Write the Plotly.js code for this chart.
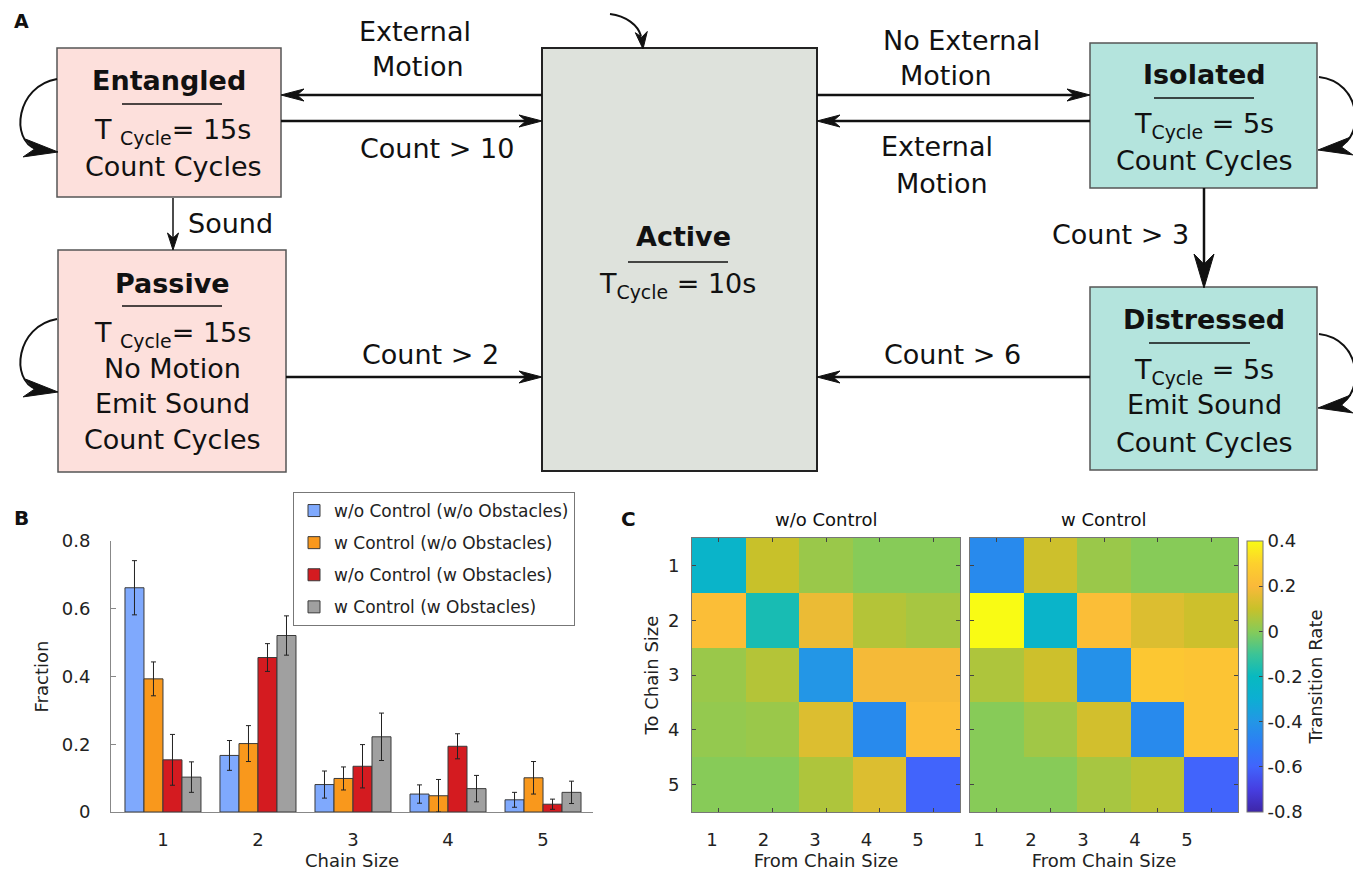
<!DOCTYPE html>
<html><head><meta charset="utf-8">
<script src="https://cdn.plot.ly/plotly-3.0.1.min.js"></script>
<style>html,body{margin:0;padding:0;background:#fff;}#chart{width:1353px;height:871px;}</style>
</head><body><div id="chart"></div>
<script>
// ---------------- DATA ----------------
const chainSizes = [1, 2, 3, 4, 5];
const chainLabels = ['1', '2', '3', '4', '5'];
const seriesNames = ['w/o Control (w/o Obstacles)', 'w Control (w/o Obstacles)', 'w/o Control (w Obstacles)', 'w Control (w Obstacles)'];
const seriesColors = ['#7fa9fd', '#f9981c', '#d41b20', '#a0a0a0'];
const fracNoCtrlNoObs = [0.662, 0.167, 0.081, 0.053, 0.036];
const errNoCtrlNoObs  = [0.080, 0.044, 0.040, 0.027, 0.022];
const fracCtrlNoObs   = [0.393, 0.202, 0.099, 0.048, 0.101];
const errCtrlNoObs    = [0.050, 0.053, 0.034, 0.048, 0.048];
const fracNoCtrlObs   = [0.154, 0.456, 0.135, 0.194, 0.023];
const errNoCtrlObs    = [0.075, 0.041, 0.064, 0.037, 0.015];
const fracCtrlObs     = [0.103, 0.521, 0.222, 0.069, 0.058];
const errCtrlObs      = [0.045, 0.058, 0.070, 0.039, 0.033];
const fractionTicks = [0, 0.2, 0.4, 0.6, 0.8];
const fractionTickLabels = ['0', '0.2', '0.4', '0.6', '0.8'];

// transition rate matrices: rows = To chain size 1..5, cols = From chain size 1..5
const rateNoCtrl = [
  [-0.25, 0.10, 0.03, 0.00, 0.00],
  [ 0.22,-0.17, 0.17, 0.07, 0.05],
  [ 0.03, 0.07,-0.40, 0.19, 0.19],
  [ 0.02, 0.03, 0.14,-0.45, 0.22],
  [ 0.00, 0.00, 0.06, 0.14,-0.60]
];
const rateCtrl = [
  [-0.45, 0.11, 0.03, 0.00, 0.00],
  [ 0.40,-0.25, 0.22, 0.14, 0.11],
  [ 0.06, 0.11,-0.42, 0.26, 0.25],
  [ 0.00, 0.04, 0.12,-0.45, 0.25],
  [ 0.00, 0.00, 0.05, 0.08,-0.60]
];
const colorbarTicks = [-0.8, -0.6, -0.4, -0.2, 0, 0.2, 0.4];
const colorbarTickLabels = ['-0.8', '-0.6', '-0.4', '-0.2', '0', '0.2', '0.4'];
const parula = [
  [0.000, 'rgb(62,38,168)'],
  [0.083, 'rgb(70,62,225)'],
  [0.167, 'rgb(65,100,252)'],
  [0.250, 'rgb(45,125,245)'],
  [0.333, 'rgb(35,150,230)'],
  [0.420, 'rgb(12,175,210)'],
  [0.500, 'rgb(8,185,192)'],
  [0.583, 'rgb(60,196,150)'],
  [0.667, 'rgb(135,203,88)'],
  [0.750, 'rgb(200,193,42)'],
  [0.833, 'rgb(250,185,58)'],
  [0.917, 'rgb(253,208,45)'],
  [1.000, 'rgb(249,251,20)']
];

// ---------------- helpers ----------------
const W = 1353, H = 871;
const X = p => p / W;
const Y = p => 1 - p / H;
const FONT = 'DejaVu Sans, Verdana, sans-serif';

// ---------------- traces ----------------
const fracs = [fracNoCtrlNoObs, fracCtrlNoObs, fracNoCtrlObs, fracCtrlObs];
const errs = [errNoCtrlNoObs, errCtrlNoObs, errNoCtrlObs, errCtrlObs];
const traces = seriesNames.map((name, i) => ({
  type: 'bar', name: name, x: chainSizes, y: fracs[i],
  xaxis: 'x', yaxis: 'y', legendgroup: 'g' + i,
  marker: {color: seriesColors[i], line: {color: '#3a3a3a', width: 1}},
  error_y: {type: 'data', array: errs[i], visible: true, color: '#222', thickness: 1, width: 2.5},
  hoverinfo: 'x+y'
}));
traces.push({
  type: 'heatmap', x: chainSizes, y: chainSizes, z: rateNoCtrl,
  xaxis: 'x2', yaxis: 'y2', coloraxis: 'coloraxis', showlegend: false
});
traces.push({
  type: 'heatmap', x: chainSizes, y: chainSizes, z: rateCtrl,
  xaxis: 'x3', yaxis: 'y3', coloraxis: 'coloraxis', showlegend: false
});

// ---------------- diagram (panel A) ----------------
const shapes = [];
const annotations = [];
function rect(x0, y0, x1, y1, fill, lc, lw) {
  shapes.push({type: 'rect', xref: 'paper', yref: 'paper', x0: X(x0), x1: X(x1), y0: Y(y1), y1: Y(y0),
    fillcolor: fill, line: {color: lc, width: lw}, layer: 'below'});
}
function seg(x0, y0, x1, y1, lw) {
  shapes.push({type: 'line', xref: 'paper', yref: 'paper', x0: X(x0), x1: X(x1), y0: Y(y0), y1: Y(y1),
    line: {color: '#111', width: lw}});
}
function curve(pts, lw) {
  const p = pts.map(q => X(q[0]).toFixed(5) + ',' + Y(q[1]).toFixed(5));
  shapes.push({type: 'path', xref: 'paper', yref: 'paper',
    path: 'M' + p[0] + ' C' + p[1] + ' ' + p[2] + ' ' + p[3], line: {color: '#111', width: lw}});
}
function head(tx, ty, dx, dy, len, hw) {
  const n = Math.hypot(dx, dy); const ux = dx / n, uy = dy / n;
  const bx = tx - ux * len, by = ty - uy * len;
  const nx = -uy, ny = ux;
  const p1 = [bx + nx * hw, by + ny * hw], p2 = [bx - nx * hw, by - ny * hw];
  const nt = [tx - ux * len * 0.7, ty - uy * len * 0.7];
  const f = q => X(q[0]).toFixed(5) + ',' + Y(q[1]).toFixed(5);
  shapes.push({type: 'path', xref: 'paper', yref: 'paper',
    path: 'M' + f([tx, ty]) + ' L' + f(p1) + ' L' + f(nt) + ' L' + f(p2) + ' Z',
    fillcolor: '#111', line: {color: '#111', width: 1}});
}
function txt(x, y, text, size, opts) {
  annotations.push(Object.assign({xref: 'paper', yref: 'paper', x: X(x), y: Y(y), text: text,
    showarrow: false, xanchor: 'center', yanchor: 'middle',
    font: {family: FONT, size: size, color: '#111'}}, opts || {}));
}

const pink = 'rgb(253,224,220)', teal = 'rgb(180,228,221)', grey = 'rgb(222,226,220)';
rect(57, 48, 281, 197, pink, '#555', 1.5);
rect(58, 250, 286, 472, pink, '#555', 1.5);
rect(542, 48, 817, 471, grey, '#222', 2);
rect(1090, 43, 1317, 188, teal, '#555', 1.5);
rect(1090, 287, 1317, 470, teal, '#555', 1.5);

// title underlines
seg(122, 104, 222, 104, 1.5);
seg(122, 306, 222, 306, 1.5);
seg(628, 262, 728, 262, 1.5);
seg(1154, 98, 1254, 98, 1.5);
seg(1149, 343, 1250, 343, 1.5);

// straight arrows
seg(542, 95, 290, 95, 2.5);   head(281, 95, -1, 0, 23, 6);
seg(281, 121, 534, 121, 2.5); head(542, 121, 1, 0, 23, 6);
seg(286, 377, 534, 377, 2.5); head(542, 377, 1, 0, 23, 6);
seg(817, 95, 1082, 95, 2.5);  head(1090, 95, 1, 0, 23, 6);
seg(1090, 121, 825, 121, 2.5); head(817, 121, -1, 0, 23, 6);
seg(1090, 377, 825, 377, 2.5); head(817, 377, -1, 0, 23, 6);
seg(173, 198, 173, 242, 1.5);  head(173, 250, 0, 1, 17, 5.5);
seg(1204, 188, 1204, 270, 2.5); head(1204, 288, 0, 1, 34, 10);
// curved arrows
curve([[610, 14], [626, 16], [638, 25], [641, 36]], 2); head(643, 49, 0.1, 1, 17, 6);
curve([[57, 79], [16, 86], [10, 140], [36, 149]], 2);  head(58, 152, 1, 0.12, 34, 9);
curve([[57, 319], [16, 326], [10, 380], [36, 389]], 2); head(58, 392, 1, 0.12, 34, 9);
curve([[1319, 77], [1362, 82], [1364, 136], [1340, 146]], 2); head(1318, 150, -1, 0.12, 34, 9);
curve([[1319, 334], [1362, 339], [1364, 393], [1340, 404]], 2); head(1318, 408, -1, 0.12, 34, 9);

// diagram text
const S = 27;
txt(169, 81, '<b>Entangled</b>', S);
txt(172, 132, 'T <sub>Cycle</sub>= 15s', S);
txt(173, 167, 'Count Cycles', S);
txt(172, 283, '<b>Passive</b>', S);
txt(172, 334, 'T <sub>Cycle</sub>= 15s', S);
txt(172, 368, 'No Motion', S);
txt(172, 403, 'Emit Sound', S);
txt(172, 440, 'Count Cycles', S);
txt(683, 237, '<b>Active</b>', S);
txt(677, 285, 'T<sub>Cycle</sub> = 10s', S);
txt(1204, 74, '<b>Isolated</b>', S);
txt(1204, 126, 'T<sub>Cycle</sub> = 5s', S);
txt(1204, 160, 'Count Cycles', S);
txt(1204, 319, '<b>Distressed</b>', S);
txt(1204, 371, 'T<sub>Cycle</sub> = 5s', S);
txt(1204, 405, 'Emit Sound', S);
txt(1204, 442, 'Count Cycles', S);
txt(186, 223, 'Sound', S, {xanchor: 'left'});
txt(415, 32, 'External', S);
txt(418, 67, 'Motion', S);
txt(437, 148, 'Count &gt; 10', S);
txt(430, 355, 'Count &gt; 2', S);
txt(961, 40, 'No External', S);
txt(946, 75, 'Motion', S);
txt(937, 147, 'External', S);
txt(942, 183, 'Motion', S);
txt(1120, 234, 'Count &gt; 3', S);
txt(952, 355, 'Count &gt; 6', S);

// panel letters and heatmap titles
txt(21, 21, '<b>A</b>', 19);
txt(21, 518, '<b>B</b>', 20);
txt(628, 519, '<b>C</b>', 20);
txt(826, 519, 'w/o Control', 18);
txt(1104, 519, 'w Control', 18);

// ---------------- layout ----------------
const axisGrey = '#888';
const heatFrame = '#777';
const layout = {
  width: W, height: H,
  margin: {l: 0, r: 0, t: 0, b: 0},
  paper_bgcolor: '#ffffff', plot_bgcolor: 'rgba(0,0,0,0)',
  font: {family: FONT, color: '#222', size: 18},
  barmode: 'group', bargap: 0.2, bargroupgap: 0,
  showlegend: true,
  legend: {x: X(293), y: Y(492), xanchor: 'left', yanchor: 'top',
    bgcolor: '#ffffff', bordercolor: '#777', borderwidth: 1,
    font: {family: FONT, size: 17, color: '#222'}, tracegroupgap: 7, itemwidth: 30},
  xaxis: {domain: [X(111), X(593)], anchor: 'y', range: [0.453, 5.526],
    tickvals: chainSizes, ticktext: chainLabels, ticks: '', ticklabelstandoff: 11,
    showline: true, linecolor: axisGrey, linewidth: 1, showgrid: false, zeroline: false,
    tickfont: {size: 18}, title: {text: 'Chain Size', font: {size: 18}, standoff: 10}},
  yaxis: {domain: [Y(812), Y(541)], anchor: 'x', range: [0, 0.8],
    tickvals: fractionTicks, ticktext: fractionTickLabels, ticks: 'inside', ticklen: 5, tickcolor: axisGrey,
    ticklabelstandoff: 16,
    showline: true, linecolor: axisGrey, linewidth: 1, showgrid: false, zeroline: false,
    tickfont: {size: 18}, title: {text: 'Fraction', font: {size: 18}, standoff: 8}},
  xaxis2: {domain: [X(692), X(960)], anchor: 'y2', range: [0.5, 5.5],
    tickvals: chainSizes.map((c, i) => 0.873 + 0.961 * i), ticktext: chainLabels, ticks: '',
    ticklabelstandoff: 11,
    minor: {tickvals: chainSizes, ticks: 'inside', ticklen: 4, tickcolor: '#444', showgrid: false},
    showline: true, mirror: 'ticks', linecolor: heatFrame, linewidth: 1, showgrid: false, zeroline: false,
    tickfont: {size: 18}, title: {text: 'From Chain Size', font: {size: 18}, standoff: 10}},
  yaxis2: {domain: [Y(812), Y(538)], anchor: 'x2', range: [5.5, 0.5],
    tickvals: chainSizes, ticktext: chainLabels, ticks: 'inside', ticklen: 4, tickcolor: '#444',
    ticklabelstandoff: 8,
    showline: true, mirror: 'ticks', linecolor: heatFrame, linewidth: 1, showgrid: false, zeroline: false,
    tickfont: {size: 18}, title: {text: 'To Chain Size', font: {size: 18}, standoff: 4}},
  xaxis3: {domain: [X(970), X(1238)], anchor: 'y3', range: [0.5, 5.5],
    tickvals: chainSizes.map((c, i) => 0.668 + 0.970 * i), ticktext: chainLabels, ticks: '',
    ticklabelstandoff: 11,
    minor: {tickvals: chainSizes, ticks: 'inside', ticklen: 4, tickcolor: '#444', showgrid: false},
    showline: true, mirror: 'ticks', linecolor: heatFrame, linewidth: 1, showgrid: false, zeroline: false,
    tickfont: {size: 18}, title: {text: 'From Chain Size', font: {size: 18}, standoff: 10}},
  yaxis3: {domain: [Y(812), Y(538)], anchor: 'x3', range: [5.5, 0.5],
    tickvals: chainSizes, showticklabels: false, ticks: 'inside', ticklen: 4, tickcolor: '#444',
    showline: true, mirror: 'ticks', linecolor: heatFrame, linewidth: 1, showgrid: false, zeroline: false},
  coloraxis: {cmin: -0.8, cmax: 0.4, colorscale: parula,
    colorbar: {x: X(1247), xanchor: 'left', xpad: 0, y: Y(541), yanchor: 'top', ypad: 0,
      len: (812 - 541) / H, lenmode: 'fraction', thickness: 16, thicknessmode: 'pixels',
      outlinecolor: heatFrame, outlinewidth: 1, ticks: 'inside', ticklen: 4, tickcolor: '#444',
      tickvals: colorbarTicks, ticktext: colorbarTickLabels, tickfont: {size: 18, family: FONT},
      title: {text: 'Transition Rate', side: 'right', font: {size: 18, family: FONT}}}},
  shapes: shapes,
  annotations: annotations
};

Plotly.newPlot('chart', traces, layout, {displayModeBar: false, responsive: false});
</script>
</body></html>
